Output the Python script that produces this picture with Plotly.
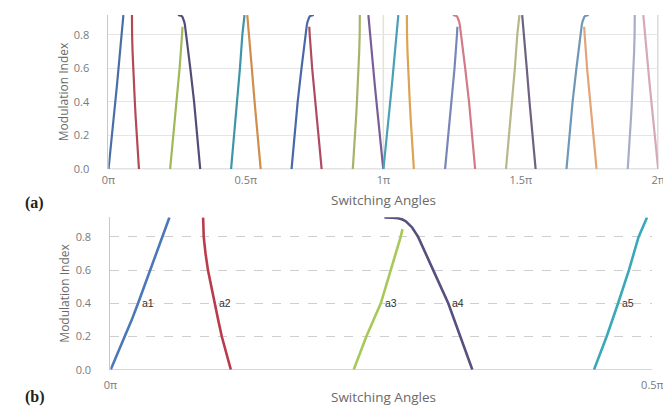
import plotly.graph_objects as go

# ---- data: switching angles (degrees) vs modulation index ----
m_a1 = [0.0, 0.1, 0.2, 0.3, 0.4, 0.5, 0.6, 0.7, 0.8, 0.86, 0.917]
alpha1 = [0.05, 1.25, 2.45, 3.55, 4.6, 5.6, 6.6, 7.55, 8.5, 9.1, 9.8]

m_a2 = [0.0, 0.1, 0.2, 0.3, 0.4, 0.5, 0.6, 0.7, 0.8, 0.917]
alpha2 = [20.0, 19.2, 18.5, 17.9, 17.3, 16.7, 16.2, 15.8, 15.5, 15.4]

m_a3 = [0.0, 0.2, 0.4, 0.6, 0.8, 0.847]
alpha3 = [40.4, 42.5, 44.9, 46.6, 48.2, 48.5]

m_a4 = [0.0, 0.2, 0.4, 0.6, 0.8, 0.857, 0.878, 0.893, 0.905, 0.912, 0.916, 0.917]
alpha4 = [60.1, 58.1, 56.1, 53.6, 51.1, 50.1, 49.6, 49.1, 48.5, 47.8, 46.8, 45.5]

m_a5 = [0.0, 0.2, 0.4, 0.6, 0.8, 0.917]
alpha5 = [80.3, 82.4, 84.3, 86.1, 87.7, 89.1]

angle_names = ["a1", "a2", "a3", "a4", "a5"]
label_m = 0.4
x_ticks_a = [0, 0.5, 1, 1.5, 2]
x_text_a = ["0π", "0.5π", "1π", "1.5π", "2π"]
x_ticks_b = [0, 0.5]
x_text_b = ["0π", "0.5π"]
y_ticks = [0.0, 0.2, 0.4, 0.6, 0.8]
y_text = ["0.0", "0.2", "0.4", "0.6", "0.8"]

colors_a = ["#4a6fa5", "#b24a55", "#9fb85a", "#544b78", "#3f95a8", "#d08e4c",
            "#4a68a8", "#b04a62", "#a6b46a", "#7a5d98", "#4aa0b5", "#dca352",
            "#7a86b8", "#d37a88", "#b8b88a", "#6e6282", "#6f98b8", "#e3a47a",
            "#a6adc6", "#d6aab4"]
colors_b = ["#4a78b8", "#b83c4c", "#a8c85a", "#56507e", "#3aa8b8"]

curves = [(m_a1, alpha1), (m_a2, alpha2), (m_a3, alpha3), (m_a4, alpha4), (m_a5, alpha5)]

fig = go.Figure()

# ---- panel (a): full period using quarter/half-wave symmetry ----
series_a = []
for ms, al in curves:
    series_a.append((ms, [a / 180 for a in al]))
for ms, al in reversed(curves):
    series_a.append((ms, [1 - a / 180 for a in al]))
for ms, al in curves:
    series_a.append((ms, [1 + a / 180 for a in al]))
for ms, al in reversed(curves):
    series_a.append((ms, [2 - a / 180 for a in al]))

for i, (ms, xs) in enumerate(series_a):
    fig.add_trace(go.Scatter(x=xs, y=ms, mode="lines", xaxis="x", yaxis="y",
                             line=dict(color=colors_a[i], width=2.2),
                             showlegend=False, hoverinfo="skip"))

# ---- panel (b): first quarter ----
for i, (ms, al) in enumerate(curves):
    fig.add_trace(go.Scatter(x=[a / 180 for a in al], y=ms, mode="lines",
                             xaxis="x2", yaxis="y2",
                             line=dict(color=colors_b[i], width=2.6),
                             showlegend=False, hoverinfo="skip"))

annotations = []
for i, (ms, al) in enumerate(curves):
    xl = al[ms.index(label_m)] / 180
    annotations.append(dict(x=xl, y=label_m, xref="x2", yref="y2",
                            text=angle_names[i], showarrow=False, xanchor="left",
                            yanchor="middle", xshift=2,
                            font=dict(size=10.5, color="#333333",
                                      family="Liberation Sans")))

xtick_font = dict(family="Open Sans", size=11, color="#7a7a7a")
ytick_font = dict(family="Open Sans", size=11, color="#7a7a7a")
ytitle_font = dict(family="Open Sans", size=12, color="#6a6a6a")
xtitle_font = dict(family="Open Sans", size=13.5, color="#6a6a6a")
panel_font = dict(family="Liberation Serif", size=16, color="#222222")

annotations += [
    dict(x=50 / 671, y=1 - 85 / 406, xref="paper", yref="paper", text="Modulation Index",
         textangle=-90, showarrow=False, xanchor="center", yanchor="middle",
         font=ytitle_font),
    dict(x=50 / 671, y=1 - 290 / 406, xref="paper", yref="paper", text="Modulation Index",
         textangle=-90, showarrow=False, xanchor="center", yanchor="middle",
         font=ytitle_font),
    dict(x=379 / 671, y=1 - 195 / 406, xref="paper", yref="paper", text="Switching Angles",
         showarrow=False, xanchor="center", yanchor="middle", font=xtitle_font),
    dict(x=379 / 671, y=1 - 396 / 406, xref="paper", yref="paper", text="Switching Angles",
         showarrow=False, xanchor="center", yanchor="middle", font=xtitle_font),
    dict(x=8 / 671, y=1 - 198 / 406, xref="paper", yref="paper", text="<b>(a)</b>",
         showarrow=False, xanchor="left", yanchor="middle", font=panel_font),
    dict(x=8 / 671, y=1 - 396 / 406, xref="paper", yref="paper", text="<b>(b)</b>",
         showarrow=False, xanchor="left", yanchor="middle", font=panel_font),
]

shapes = [
    dict(type="line", xref="x", yref="y", x0=1, x1=1, y0=0, y1=0.918,
         line=dict(color="#e4e2d6", width=1.5), layer="below"),
    dict(type="line", xref="x", yref="y", x0=2, x1=2, y0=0, y1=0.918,
         line=dict(color="#b8b8b8", width=1.5), layer="below"),
    dict(type="line", xref="x", yref="y", x0=0, x1=2, y0=0, y1=0,
         line=dict(color="#c8c8c8", width=1.5), layer="below"),
    dict(type="line", xref="x2", yref="y2", x0=0, x1=0.5, y0=0, y1=0,
         line=dict(color="#c8c8c8", width=1.5), layer="below"),
]

fig.update_layout(
    width=671, height=406, margin=dict(l=0, r=0, t=0, b=0),
    paper_bgcolor="white", plot_bgcolor="white",
    annotations=annotations, shapes=shapes,
    xaxis=dict(domain=[96 / 671, 661 / 671], range=[0, 2], tickvals=x_ticks_a,
               ticktext=x_text_a, showgrid=False, zeroline=False, showline=False,
               ticks="", tickfont=xtick_font, ticklabelstandoff=3, anchor="y"),
    yaxis=dict(domain=[1 - 164 / 406, 1 - 7 / 406], range=[0, 0.918], tickvals=y_ticks,
               ticktext=y_text, showgrid=True, gridcolor="#e6e6e6", gridwidth=1,
               zeroline=False, showline=True, linecolor="#c8c8c8", linewidth=1,
               ticks="", tickfont=ytick_font, ticklabelstandoff=16, anchor="x"),
    xaxis2=dict(domain=[98 / 671, 655 / 671], range=[0, 0.5], tickvals=x_ticks_b,
                ticktext=x_text_b, showgrid=False, zeroline=False, showline=False,
                ticks="", tickfont=xtick_font, ticklabelstandoff=7, anchor="y2"),
    yaxis2=dict(domain=[1 - 368 / 406, 1 - 213 / 406], range=[0, 0.918], tickvals=y_ticks,
                ticktext=y_text, showgrid=True, gridcolor="#cfcfcf", gridwidth=1,
                griddash="dash", zeroline=False, showline=True, linecolor="#c8c8c8",
                linewidth=1, ticks="", tickfont=ytick_font, ticklabelstandoff=16,
                anchor="x2"),
)

fig.write_html("out.html")
